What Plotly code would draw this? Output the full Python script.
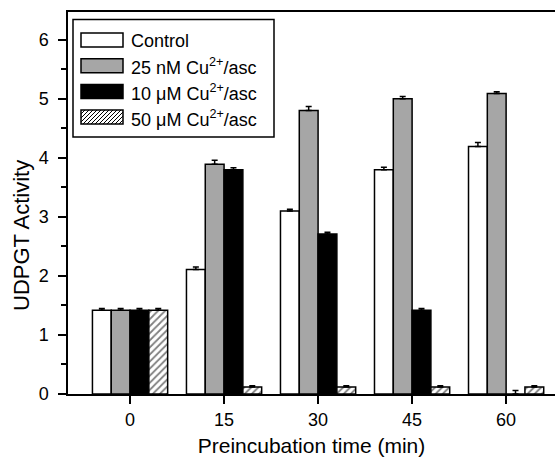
import plotly.graph_objects as go

times = [0, 15, 30, 45, 60]
tick_labels = ["0", "15", "30", "45", "60"]

control = [1.42, 2.11, 3.10, 3.80, 4.19]
control_err = [0.03, 0.04, 0.03, 0.04, 0.07]
cu25 = [1.42, 3.89, 4.80, 5.00, 5.09]
cu25_err = [0.03, 0.07, 0.07, 0.04, 0.03]
cu10 = [1.42, 3.80, 2.71, 1.42, 0.0]
cu10_err = [0.03, 0.03, 0.03, 0.03, 0.06]
cu50 = [1.42, 0.12, 0.12, 0.12, 0.12]
cu50_err = [0.03, 0.02, 0.02, 0.02, 0.02]

names = ["Control", "25 nM Cu<sup>2+</sup>/asc", "10 μM Cu<sup>2+</sup>/asc", "50 μM Cu<sup>2+</sup>/asc"]
fills = ["white", "#a6a6a6", "black", "white"]
x_title = "Preincubation time (min)"
y_title = "UDPGT Activity"

FONT = "Liberation Sans, Arial, sans-serif"
W, H = 555, 457
ML, MR, MT, MB = 68, 0, 12, 63
PW, PH = W - ML - MR, H - MT - MB


def px(x):
    return (x - ML) / PW


def py(y):
    return (H - MB - y) / PH


def err(arr):
    return dict(type="data", array=arr, arrayminus=[0] * len(arr), symmetric=False,
                color="black", thickness=1.5, width=3)


fig = go.Figure()
series = [control, cu25, cu10, cu50]
errs = [control_err, cu25_err, cu10_err, cu50_err]
for i, (vals, e) in enumerate(zip(series, errs)):
    marker = dict(color=fills[i], line=dict(color="black", width=1.5))
    if i == 3:
        marker["pattern"] = dict(shape="/", fgcolor="black", bgcolor="white", size=5, solidity=0.35)
    fig.add_trace(go.Bar(x=times, y=vals, name=names[i], error_y=err(e),
                         marker=marker, showlegend=False))

# manual legend (box, swatches, labels)
shapes = [dict(type="rect", xref="paper", yref="paper", x0=px(73), x1=px(274), y0=py(137), y1=py(19.5),
               line=dict(color="black", width=1.5), fillcolor="white", layer="above")]
annotations = []
row_centers = [40, 65.7, 91.4, 117]
sx0, sx1, sh = 81, 123, 14
for i, yc in enumerate(row_centers):
    y0, y1 = yc + sh / 2, yc - sh / 2
    shapes.append(dict(type="rect", xref="paper", yref="paper", x0=px(sx0), x1=px(sx1), y0=py(y0), y1=py(y1),
                       line=dict(color="black", width=1.5), fillcolor=fills[i], layer="above"))
    if i == 3:
        path = ""
        step = 4
        k = sx0 - sh
        while k < sx1:
            xa, ya = k, y0
            xb, yb = k + sh, y1
            if xa < sx0:
                ya = y0 - (sx0 - xa)
                xa = sx0
            if xb > sx1:
                yb = y1 + (xb - sx1)
                xb = sx1
            if xb > xa:
                path += f"M{px(xa)},{py(ya)} L{px(xb)},{py(yb)} "
            k += step
        shapes.append(dict(type="path", xref="paper", yref="paper", path=path,
                           line=dict(color="black", width=1), layer="above"))
    annotations.append(dict(text=names[i], xref="paper", yref="paper", x=px(129), y=py(yc + 1),
                            xanchor="left", yanchor="middle", showarrow=False,
                            font=dict(family=FONT, size=18, color="black")))

# y-axis title placed as in the reference (slightly below axis centre)
annotations.append(dict(text=y_title, xref="paper", yref="paper", x=px(22), y=py(236),
                        xanchor="center", yanchor="middle", textangle=-90, showarrow=False,
                        font=dict(family=FONT, size=22, color="black")))

fig.update_layout(
    width=W, height=H,
    margin=dict(l=ML, r=MR, t=MT, b=MB),
    paper_bgcolor="white", plot_bgcolor="white",
    barmode="group", bargap=0.2, bargroupgap=0,
    font=dict(family=FONT, size=18, color="black"),
    shapes=shapes, annotations=annotations,
)
fig.update_xaxes(
    range=[-9.9, 67.8], tickvals=times, ticktext=tick_labels,
    showline=True, linecolor="black", linewidth=1.5, mirror=True,
    ticks="outside", ticklen=8, tickwidth=1.5, tickcolor="black",
    ticklabelstandoff=1,
    showgrid=False, zeroline=False,
    tickfont=dict(family=FONT, size=18),
    title=dict(text=x_title, font=dict(family=FONT, size=21), standoff=12),
)
fig.update_yaxes(
    range=[0, 6.47], tickvals=[0, 1, 2, 3, 4, 5, 6],
    showline=True, linecolor="black", linewidth=1.5,
    ticks="outside", ticklen=8, tickwidth=1.5, tickcolor="black",
    ticklabelstandoff=6,
    minor=dict(tickvals=[0.5, 1.5, 2.5, 3.5, 4.5, 5.5], ticks="outside", ticklen=5,
               tickwidth=1.5, tickcolor="black"),
    showgrid=False, zeroline=False,
    tickfont=dict(family=FONT, size=18),
)

fig.write_html("out.html")
